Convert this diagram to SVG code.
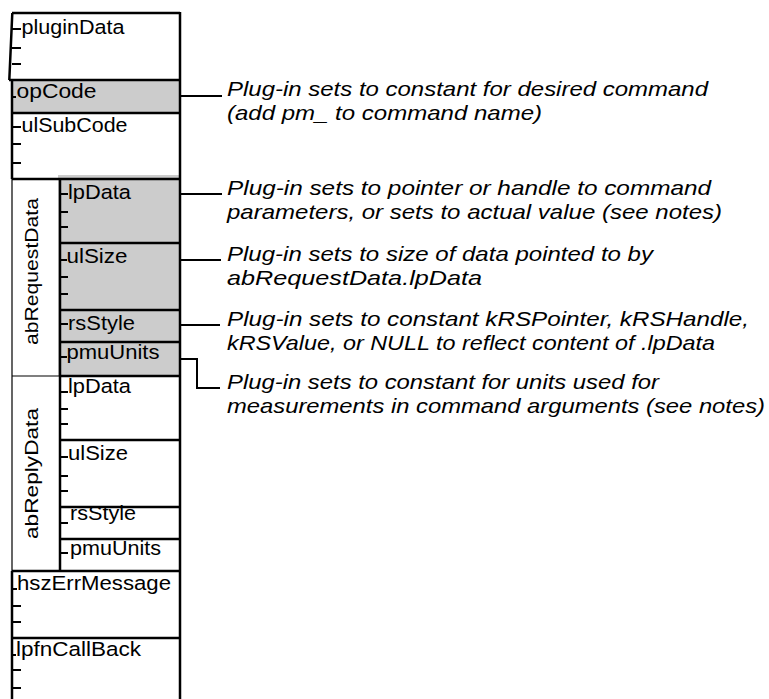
<svg xmlns="http://www.w3.org/2000/svg" width="769" height="699" viewBox="0 0 769 699">
  <style>
    .shade { fill: #cccccc; }
    .thick { stroke: #000; stroke-width: 2.5; fill: none; }
    .thin { stroke: #000; stroke-width: 1.2; fill: none; }
    .tick { stroke: #000; stroke-width: 2; fill: none; }
    .wire { stroke: #000; stroke-width: 2; fill: none; }
    .lbl { font-family: "Liberation Sans", Arial, Helvetica, sans-serif; font-size: 20.5px; fill: #000; }
    .grp { font-family: "Liberation Sans", Arial, Helvetica, sans-serif; font-size: 19px; fill: #000; }
    .note { font-family: "Liberation Sans", Arial, Helvetica, sans-serif; font-style: italic; font-size: 21px; fill: #000; }
  </style>

  <rect x="0" y="0" width="769" height="699" fill="#fff"/>

  <!-- shaded fields -->
  <rect class="shade" x="12" y="80" width="168" height="33"/>
  <rect class="shade" x="58" y="175" width="122" height="201"/>

  <!-- record outline -->
  <g id="frame">
    <path class="thick" d="M12,13 H180 M180,12 V699 M12.3,13 L9.3,80 M12,80 V179 M12,571 V699"/>
    <path class="thin" d="M12,179 V571 M12,376 H60"/>
    <path class="thick" d="M60,179 V571"/>
  </g>

  <g id="pluginData">
    <path class="thick" d="M9,80 H180"/>
    <path class="tick" d="M12,29 H21 M12,48 H21 M12,64 H21"/>
    <text class="lbl" x="21.5" y="34" textLength="103" lengthAdjust="spacingAndGlyphs">pluginData</text>
  </g>

  <g id="opCode">
    <path class="thick" d="M12,113 H180"/>
    <path class="tick" d="M12,97 H16"/>
    <text class="lbl" x="16.5" y="97.5" textLength="80" lengthAdjust="spacingAndGlyphs">opCode</text>
  </g>

  <g id="ulSubCode">
    <path class="thick" d="M12,179 H180"/>
    <path class="tick" d="M12,127 H21 M12,144 H21 M12,163 H21"/>
    <text class="lbl" x="21.5" y="132" textLength="106" lengthAdjust="spacingAndGlyphs">ulSubCode</text>
  </g>

  <g id="abRequestData">
    <text class="grp" transform="translate(38,345) rotate(-90)" x="0" y="0" textLength="147" lengthAdjust="spacingAndGlyphs">abRequestData</text>
    <g id="req-lpData">
      <path class="thick" d="M60,243 H180"/>
      <path class="tick" d="M60,194 H68 M60,212 H68 M60,227 H68"/>
      <text class="lbl" x="68" y="198.5" textLength="63" lengthAdjust="spacingAndGlyphs">lpData</text>
    </g>
    <g id="req-ulSize">
      <path class="thick" d="M60,310 H180"/>
      <path class="tick" d="M60,260 H67 M60,277 H68 M60,294 H68"/>
      <text class="lbl" x="66.5" y="263" textLength="61" lengthAdjust="spacingAndGlyphs">ulSize</text>
    </g>
    <g id="req-rsStyle">
      <path class="thick" d="M60,342 H180"/>
      <path class="tick" d="M60,324 H68"/>
      <text class="lbl" x="68" y="329.5" textLength="67" lengthAdjust="spacingAndGlyphs">rsStyle</text>
    </g>
    <g id="req-pmuUnits">
      <path class="thick" d="M60,376 H180"/>
      <path class="tick" d="M60,357 H67"/>
      <text class="lbl" x="66.5" y="358.5" textLength="93" lengthAdjust="spacingAndGlyphs">pmuUnits</text>
    </g>
  </g>

  <g id="abReplyData">
    <text class="grp" transform="translate(38,539) rotate(-90)" x="0" y="0" textLength="131" lengthAdjust="spacingAndGlyphs">abReplyData</text>
    <g id="rep-lpData">
      <path class="thick" d="M60,440 H180"/>
      <path class="tick" d="M60,392 H68 M60,409 H68 M60,424 H68"/>
      <text class="lbl" x="68" y="392.5" textLength="63" lengthAdjust="spacingAndGlyphs">lpData</text>
    </g>
    <g id="rep-ulSize">
      <path class="thick" d="M60,507 H180"/>
      <path class="tick" d="M60,457 H68 M60,476 H68 M60,491 H68"/>
      <text class="lbl" x="68" y="460" textLength="60" lengthAdjust="spacingAndGlyphs">ulSize</text>
    </g>
    <g id="rep-rsStyle">
      <path class="thick" d="M60,539 H180"/>
      <path class="tick" d="M60,523 H68"/>
      <text class="lbl" x="70" y="520" textLength="66" lengthAdjust="spacingAndGlyphs">rsStyle</text>
    </g>
    <g id="rep-pmuUnits">
      <path class="thick" d="M12,571 H180"/>
      <path class="tick" d="M60,553 H68"/>
      <text class="lbl" x="70" y="555" textLength="91" lengthAdjust="spacingAndGlyphs">pmuUnits</text>
    </g>
  </g>

  <g id="hszErrMessage">
    <path class="thick" d="M12,638 H180"/>
    <path class="tick" d="M12,589 H17 M12,606 H21 M12,622 H21"/>
    <text class="lbl" x="17" y="589.5" textLength="154" lengthAdjust="spacingAndGlyphs">hszErrMessage</text>
  </g>

  <g id="lpfnCallBack">
    <path class="tick" d="M12,655 H16 M12,670 H21 M12,688 H21"/>
    <text class="lbl" x="16" y="656" textLength="125" lengthAdjust="spacingAndGlyphs">lpfnCallBack</text>
  </g>

  <!-- callout leaders -->
  <g id="connectors">
    <path class="wire" d="M180,96 H222"/>
    <path class="wire" d="M180,194 H222"/>
    <path class="wire" d="M180,260 H221"/>
    <path class="wire" d="M180,325 H220"/>
    <path class="wire" d="M180,359 H197 V388 H220"/>
  </g>

  <!-- callout notes -->
  <g id="note-opCode">
    <text class="note" x="227" y="96" textLength="481" lengthAdjust="spacingAndGlyphs">Plug-in sets to constant for desired command</text>
    <text class="note" x="227" y="120" textLength="315" lengthAdjust="spacingAndGlyphs">(add pm_ to command name)</text>
  </g>
  <g id="note-lpData">
    <text class="note" x="227" y="195" textLength="484" lengthAdjust="spacingAndGlyphs">Plug-in sets to pointer or handle to command</text>
    <text class="note" x="227" y="219" textLength="495" lengthAdjust="spacingAndGlyphs">parameters, or sets to actual value (see notes)</text>
  </g>
  <g id="note-ulSize">
    <text class="note" x="227" y="261" textLength="426" lengthAdjust="spacingAndGlyphs">Plug-in sets to size of data pointed to by</text>
    <text class="note" x="227" y="285" textLength="255" lengthAdjust="spacingAndGlyphs">abRequestData.lpData</text>
  </g>
  <g id="note-rsStyle">
    <text class="note" x="227" y="326" textLength="522" lengthAdjust="spacingAndGlyphs">Plug-in sets to constant kRSPointer, kRSHandle,</text>
    <text class="note" x="227" y="350" textLength="488" lengthAdjust="spacingAndGlyphs">kRSValue, or NULL to reflect content of .lpData</text>
  </g>
  <g id="note-pmuUnits">
    <text class="note" x="227" y="389" textLength="432" lengthAdjust="spacingAndGlyphs">Plug-in sets to constant for units used for</text>
    <text class="note" x="227" y="413" textLength="538" lengthAdjust="spacingAndGlyphs">measurements in command arguments (see notes)</text>
  </g>
</svg>
